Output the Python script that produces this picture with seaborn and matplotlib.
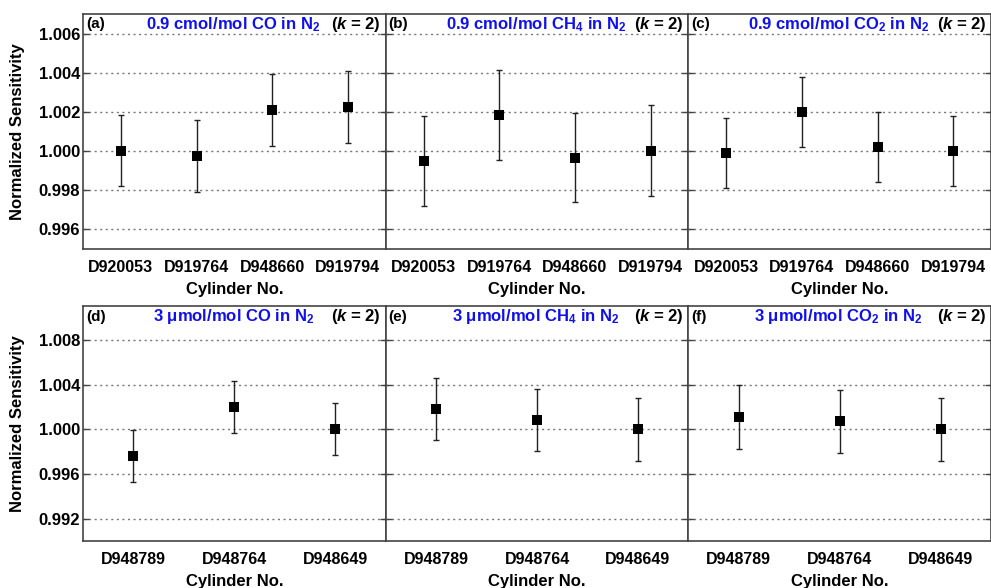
import numpy as np
import matplotlib
matplotlib.use("Agg")
import matplotlib.pyplot as plt
import seaborn as sns
from matplotlib.ticker import FormatStrFormatter, MultipleLocator

sns.set_theme(style="ticks")
plt.rcParams["font.family"] = ["Liberation Sans", "DejaVu Sans"]
plt.rcParams["font.weight"] = "bold"
plt.rcParams["text.color"] = "black"
plt.rcParams["axes.labelcolor"] = "black"
plt.rcParams["xtick.color"] = "black"
plt.rcParams["ytick.color"] = "black"
plt.rcParams["mathtext.fontset"] = "custom"
plt.rcParams["mathtext.rm"] = "Liberation Sans:bold"
plt.rcParams["mathtext.bf"] = "Liberation Sans:bold"
plt.rcParams["mathtext.it"] = "Liberation Sans:italic:bold"

# cilindros de cada linha
cyl_top = ["D920053", "D919764", "D948660", "D919794"]
cyl_bot = ["D948789", "D948764", "D948649"]

# 0.9 cmol/mol (linha de cima)
co_09 = [1.00000, 0.99974, 1.00210, 1.00225]
co_09_err = [0.00182, 0.00185, 0.00183, 0.00183]
ch4_09 = [0.99948, 1.00183, 0.99966, 1.00000]
ch4_09_err = [0.00228, 0.00232, 0.00229, 0.00233]
co2_09 = [0.99989, 1.00201, 1.00021, 1.00000]
co2_09_err = [0.00180, 0.00179, 0.00180, 0.00180]

# 3 umol/mol (linha de baixo)
co_3 = [0.99763, 1.00198, 1.00000]
co_3_err = [0.00232, 0.00233, 0.00233]
ch4_3 = [1.00180, 1.00082, 1.00000]
ch4_3_err = [0.00280, 0.00280, 0.00283]
co2_3 = [1.00108, 1.00070, 1.00000]
co2_3_err = [0.00287, 0.00283, 0.00280]

panels = [
    ("(a)", r"0.9 cmol/mol CO in N$_\mathbf{2}$", cyl_top, co_09, co_09_err),
    ("(b)", r"0.9 cmol/mol CH$_\mathbf{4}$ in N$_\mathbf{2}$", cyl_top, ch4_09, ch4_09_err),
    ("(c)", r"0.9 cmol/mol CO$_\mathbf{2}$ in N$_\mathbf{2}$", cyl_top, co2_09, co2_09_err),
    ("(d)", r"3 μmol/mol CO in N$_\mathbf{2}$", cyl_bot, co_3, co_3_err),
    ("(e)", r"3 μmol/mol CH$_\mathbf{4}$ in N$_\mathbf{2}$", cyl_bot, ch4_3, ch4_3_err),
    ("(f)", r"3 μmol/mol CO$_\mathbf{2}$ in N$_\mathbf{2}$", cyl_bot, co2_3, co2_3_err),
]

fig, axes = plt.subplots(2, 3, figsize=(9.91, 5.88), dpi=100, sharey="row")
fig.subplots_adjust(left=0.0838, right=1.0, top=0.976, bottom=0.080,
                    wspace=0, hspace=0.247)

for ax, (tag, title, cyl, vals, err) in zip(axes.ravel(), panels):
    ax.errorbar(cyl, vals, yerr=err, fmt="none", ecolor="#222222",
                elinewidth=1.0, capsize=2.5, capthick=1.0, zorder=2)
    sns.scatterplot(x=cyl, y=vals, marker="s", color="black", s=45,
                    edgecolor="black", linewidth=0, ax=ax, zorder=3)
    ax.set_xlim(-0.5, len(cyl) - 0.5)
    ax.yaxis.grid(True, linestyle=(0, (1.5, 2.5)), color="#777777", lw=1.0)
    ax.xaxis.grid(False)
    for sp in ax.spines.values():
        sp.set_color("#444444")
        sp.set_linewidth(1.2)
    ax.tick_params(axis="y", direction="in", length=4, width=1,
                   color="#444444", labelcolor="black", right=True,
                   labelsize=12, pad=2)
    ax.tick_params(axis="x", length=0, labelsize=11.5, labelcolor="black",
                   pad=8)
    for lab in ax.get_xticklabels() + ax.get_yticklabels():
        lab.set_fontweight("bold")
    ax.set_xlabel("Cylinder No.", fontsize=12, fontweight="bold", labelpad=5)
    ax.text(0.01, 0.957, tag, transform=ax.transAxes, fontsize=11,
            fontweight="bold", ha="left", va="center", color="black")
    ax.text(0.497, 0.957, title, transform=ax.transAxes, fontsize=12,
            fontweight="bold", ha="center", va="center", color="#1010ee")
    ax.text(0.985, 0.957, r"($\mathit{k}$ = 2)", transform=ax.transAxes,
            fontsize=12, fontweight="bold", ha="right", va="center",
            color="black")

for ax in axes[0]:
    ax.set_ylim(0.995, 1.007)
    ax.yaxis.set_major_locator(MultipleLocator(0.002))
for ax in axes[1]:
    ax.set_ylim(0.990, 1.011)
    ax.yaxis.set_major_locator(MultipleLocator(0.004))

for row in axes:
    row[0].yaxis.set_major_formatter(FormatStrFormatter("%.3f"))
    row[0].set_ylabel("Normalized Sensitivity", fontsize=12,
                      fontweight="bold", labelpad=10)
    for ax in row[1:]:
        ax.tick_params(axis="y", labelleft=False)

fig.savefig("out.png", dpi=100)
